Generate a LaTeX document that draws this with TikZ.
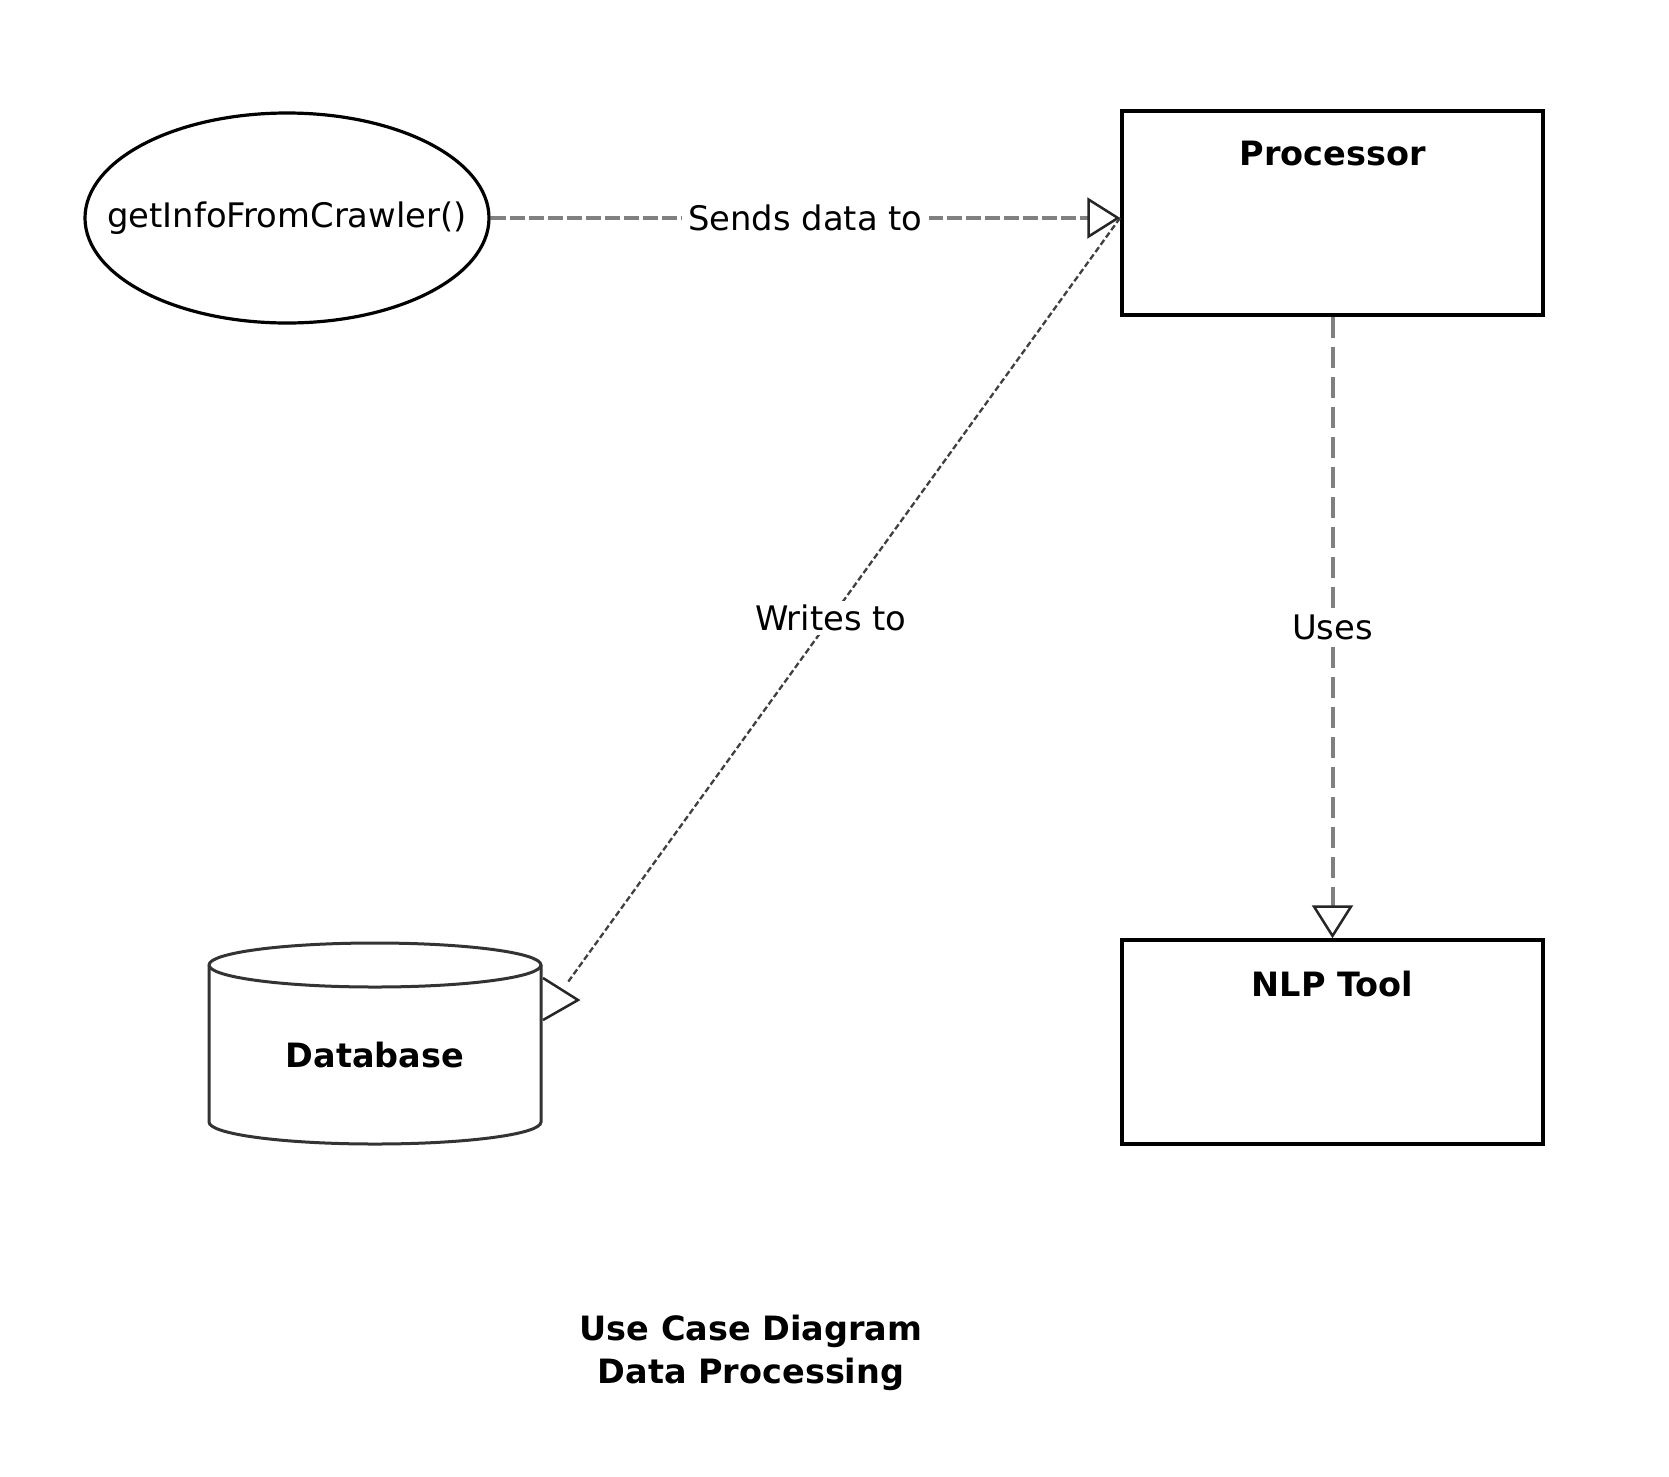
\documentclass[tikz,border=0pt]{standalone}
\usepackage{fontspec}
\setmainfont{DejaVu Sans}
\usetikzlibrary{arrows.meta,shapes.geometric,calc}
\begin{document}
\begin{tikzpicture}[x=1pt,y=-1pt,
  txt/.style={font=\fontsize{33.8}{43}\selectfont, inner sep=2pt},
  btxt/.style={font=\fontsize{33.5}{43}\selectfont\bfseries, inner sep=2pt, align=center},
  lbl/.style={txt, fill=white, inner sep=6pt},
  box/.style={draw=black, line width=3.5pt, minimum width=421pt, minimum height=204pt, inner sep=0pt},
  tip/.style={-{Triangle[open, length=33pt, width=41pt, line width=2.5pt, color=black!85]}},
  grayline/.style={draw=black!50, line width=4pt},
]
\useasboundingbox (0,0) rectangle (1669,1476);
\fill[white] (0,0) rectangle (1669,1476);

% use case ellipse
\node (crawl) [ellipse, draw=black, line width=3.2pt, minimum width=404pt, minimum height=210pt, inner sep=0pt] at (287,218) {};
\node[txt] at (crawl) {getInfoFromCrawler()};

% processor
\node (proc) [box] at (1332.5,213) {};
\node[btxt] at ($(proc.north)+(0,44)$) {Processor};

% NLP tool
\node (nlp) [box] at (1332.5,1042) {};
\node[btxt] at ($(nlp.north)+(0,46)$) {NLP Tool};

% database cylinder
\draw[draw=black!80, line width=3pt, fill=white]
  (209,965) -- (209,1122) arc[start angle=180, end angle=0, x radius=166, y radius=22] -- (541,965)
  arc[start angle=360, end angle=180, x radius=166, y radius=22] -- cycle;
\draw[draw=black!80, line width=3pt]
  (209,965) arc[start angle=180, end angle=0, x radius=166, y radius=22];
\node (db) [btxt] at (375,1055) {Database};
\coordinate (wend) at (568,982);
\coordinate (pstart) at (1120,218);

% Sends data to
\draw[grayline, dash pattern=on 15pt off 4pt, tip]
  (crawl.east) -- node[lbl, pos=0.5] {Sends data to} (crawl.east -| proc.west);

% Uses
\draw[grayline, dash pattern=on 21pt off 9pt, tip]
  (proc.south) -- node[lbl, pos=0.5, inner sep=4pt] {Uses} (nlp.north);

% Writes to
\draw[draw=black!75, line width=2.3pt, dash pattern=on 6pt off 3pt]
  (pstart) -- node[lbl, pos=0.524, inner sep=4pt] {Writes to} (wend);
\draw[draw=black!85, line width=2.5pt, line join=miter]
  (543,978) -- (578,1000) -- (543,1020);

% title
\node (title) [btxt] at (751,1353) {Use Case Diagram\\Data Processing};
\end{tikzpicture}
\end{document}
